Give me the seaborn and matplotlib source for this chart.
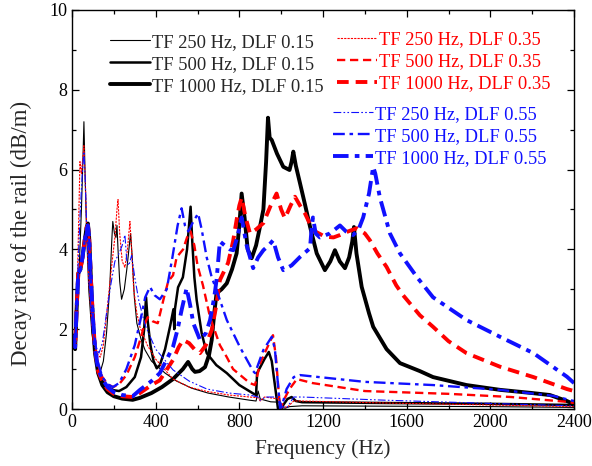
import numpy as np
import pandas as pd
import matplotlib
matplotlib.use("Agg")
import matplotlib.pyplot as plt
import seaborn as sns
from matplotlib.ticker import MultipleLocator

# ---------------- data ----------------
labels = [
    "TF 250 Hz, DLF 0.15", "TF 500 Hz, DLF 0.15", "TF 1000 Hz, DLF 0.15",
    "TF 250 Hz, DLF 0.35", "TF 500 Hz, DLF 0.35", "TF 1000 Hz, DLF 0.35",
    "TF 250 Hz, DLF 0.55", "TF 500 Hz, DLF 0.55", "TF 1000 Hz, DLF 0.55",
]

f_k250 = [0, 10, 15, 25, 35, 45, 52, 57, 62, 70, 80, 95, 110, 125, 138, 150, 165, 180, 190, 195, 203, 210, 215, 220, 228, 237, 250, 262, 272, 280, 288, 298, 310, 330, 349, 380, 445, 500, 573, 650, 750, 850, 880, 890, 900, 950, 995, 1005, 1020, 1040, 1100, 1500, 2000, 2400]
v_k250 = [1.85, 1.55, 1.5, 2.5, 3.6, 5.0, 6.2, 7.2, 6.0, 4.4, 3.0, 1.9, 1.35, 1.05, 0.98, 1.2, 1.9, 3.0, 4.2, 4.7, 4.4, 4.3, 4.6, 4.0, 3.2, 2.75, 3.0, 3.5, 4.0, 4.4, 3.8, 2.8, 2.15, 1.75, 1.48, 1.2, 0.9, 0.7, 0.52, 0.4, 0.3, 0.22, 0.2, 0.45, 0.25, 0.18, 0.17, 0.03, 0.02, 0.06, 0.08, 0.07, 0.06, 0.04]

f_k500 = [0, 10, 15, 22, 30, 40, 50, 60, 70, 76, 82, 90, 100, 110, 125, 145, 170, 200, 225, 260, 300, 330, 345, 354, 362, 375, 390, 405, 420, 445, 470, 485, 489, 492, 507, 530, 550, 567, 575, 585, 596, 620, 644, 690, 740, 800, 866, 880, 885, 900, 920, 941, 955, 970, 985, 1000, 1010, 1030, 1050, 1070, 1100, 1500, 2000, 2400]
v_k500 = [1.85, 1.55, 1.5, 2.5, 3.4, 3.5, 3.8, 4.2, 4.55, 4.65, 4.3, 3.3, 2.2, 1.5, 1.0, 0.7, 0.55, 0.47, 0.45, 0.55, 0.8, 1.3, 2.0, 2.8, 2.2, 1.6, 1.2, 1.02, 1.1, 1.5, 2.1, 2.5, 2.0, 2.5, 3.05, 3.3, 4.0, 5.07, 4.2, 3.3, 2.73, 1.9, 1.4, 1.1, 0.9, 0.6, 0.39, 0.35, 0.9, 1.05, 1.25, 1.43, 1.2, 0.6, 0.0, 0.0, 0.1, 0.25, 0.3, 0.2, 0.17, 0.15, 0.13, 0.1]

f_k1000 = [0, 10, 15, 22, 30, 40, 50, 60, 70, 76, 82, 90, 100, 110, 125, 145, 170, 200, 240, 290, 325, 380, 430, 483, 530, 555, 575, 588, 610, 636, 655, 668, 680, 691, 715, 740, 765, 787, 800, 811, 825, 840, 859, 880, 900, 915, 928, 937, 945, 955, 980, 1010, 1040, 1050, 1058, 1070, 1090, 1115, 1138, 1170, 1209, 1235, 1257, 1280, 1305, 1325, 1340, 1348, 1360, 1385, 1420, 1440, 1504, 1568, 1663, 1726, 1886, 2046, 2200, 2285, 2366, 2400]
v_k1000 = [1.85, 1.55, 1.5, 2.5, 3.4, 3.5, 3.8, 4.2, 4.55, 4.65, 4.3, 3.3, 2.2, 1.4, 0.9, 0.6, 0.42, 0.32, 0.26, 0.23, 0.28, 0.4, 0.55, 0.75, 1.0, 1.18, 1.0, 0.93, 0.95, 1.05, 1.35, 1.73, 2.4, 2.9, 3.0, 3.15, 3.5, 3.9, 4.6, 5.4, 4.8, 4.0, 3.78, 4.1, 4.6, 5.0, 6.2, 7.3, 6.8, 6.74, 6.4, 6.07, 5.99, 6.2, 6.45, 6.1, 5.66, 5.1, 4.57, 3.9, 3.48, 3.7, 3.98, 3.7, 3.53, 3.8, 4.2, 4.56, 3.9, 3.06, 2.4, 2.06, 1.5, 1.15, 0.95, 0.8, 0.6, 0.48, 0.4, 0.35, 0.2, 0.12]

f_r250 = [0, 10, 15, 25, 38, 45, 52, 57, 63, 70, 80, 95, 110, 125, 135, 150, 170, 190, 205, 215, 220, 228, 240, 253, 265, 277, 285, 295, 310, 325, 360, 400, 483, 560, 645, 750, 850, 890, 900, 920, 990, 1005, 1030, 1060, 1100, 1500, 2000, 2400]
v_r250 = [1.85, 1.6, 1.55, 3.0, 6.2, 5.9, 6.3, 6.6, 5.8, 4.5, 3.2, 2.1, 1.55, 1.35, 1.3, 1.6, 2.6, 3.6, 4.3, 5.0, 5.25, 4.4, 3.7, 3.55, 4.0, 4.7, 4.0, 3.0, 2.4, 2.05, 1.6, 1.25, 0.75, 0.55, 0.44, 0.35, 0.3, 0.28, 0.2, 0.3, 0.25, 0.05, 0.05, 0.2, 0.2, 0.15, 0.1, 0.06]

f_r500 = [0, 10, 15, 22, 30, 40, 50, 60, 70, 76, 82, 90, 100, 110, 125, 145, 170, 196, 225, 260, 300, 330, 345, 362, 385, 410, 440, 460, 483, 500, 531, 550, 567, 585, 600, 626, 660, 707, 740, 770, 850, 875, 900, 930, 961, 975, 990, 998, 1010, 1040, 1075, 1150, 1400, 1800, 2100, 2366, 2400]
v_r500 = [1.85, 1.6, 1.55, 2.5, 3.4, 3.5, 3.8, 4.2, 4.55, 4.6, 4.3, 3.3, 2.3, 1.6, 1.1, 0.8, 0.62, 0.55, 0.62, 0.85, 1.3, 1.8, 2.1, 2.3, 2.2, 2.15, 2.8, 3.2, 3.35, 3.8, 4.0, 4.3, 4.45, 4.1, 3.6, 3.1, 2.3, 1.6, 1.3, 1.0, 0.65, 0.6, 1.15, 1.5, 1.85, 1.3, 0.3, 0.0, 0.2, 0.5, 0.75, 0.65, 0.45, 0.38, 0.3, 0.18, 0.15]

f_r1000 = [0, 10, 15, 22, 30, 40, 50, 60, 70, 76, 82, 90, 100, 110, 125, 145, 170, 200, 240, 290, 325, 380, 420, 483, 510, 531, 560, 585, 612, 640, 668, 690, 707, 746, 770, 787, 800, 811, 830, 851, 880, 915, 950, 978, 1000, 1018, 1045, 1066, 1090, 1114, 1152, 1209, 1250, 1281, 1320, 1361, 1400, 1424, 1460, 1504, 1550, 1583, 1663, 1726, 1800, 1886, 2046, 2206, 2366, 2400]
v_r1000 = [1.85, 1.6, 1.55, 2.5, 3.4, 3.5, 3.8, 4.2, 4.55, 4.6, 4.3, 3.3, 2.3, 1.5, 0.95, 0.7, 0.5, 0.38, 0.32, 0.3, 0.4, 0.6, 0.72, 1.23, 1.55, 1.73, 1.65, 1.5, 1.4, 1.6, 1.98, 2.6, 3.23, 3.66, 4.2, 4.74, 5.1, 5.3, 4.8, 4.4, 4.5, 4.66, 5.1, 5.4, 5.0, 4.78, 5.1, 5.32, 5.1, 4.9, 4.48, 4.32, 4.3, 4.36, 4.45, 4.53, 4.4, 4.23, 3.9, 3.56, 3.1, 2.85, 2.35, 2.06, 1.7, 1.4, 1.06, 0.8, 0.5, 0.45]

f_b250 = [0, 10, 15, 25, 38, 50, 57, 63, 70, 80, 95, 110, 129, 145, 165, 185, 205, 225, 240, 253, 262, 272, 285, 300, 320, 350, 400, 483, 560, 645, 750, 850, 890, 900, 925, 990, 1005, 1030, 1060, 1100, 1500, 2000, 2400]
v_b250 = [1.85, 1.6, 1.55, 3.0, 4.8, 6.0, 6.45, 5.8, 4.6, 3.3, 2.2, 1.6, 1.4, 1.65, 2.4, 3.1, 3.7, 3.9, 4.1, 4.36, 3.7, 3.6, 3.85, 3.3, 2.7, 2.1, 1.5, 0.98, 0.7, 0.5, 0.4, 0.35, 0.3, 0.22, 0.3, 0.3, 0.05, 0.05, 0.3, 0.3, 0.22, 0.14, 0.08]

f_b500 = [0, 10, 15, 22, 30, 40, 50, 60, 70, 76, 82, 90, 100, 110, 125, 145, 170, 196, 225, 260, 300, 330, 350, 373, 395, 420, 453, 480, 505, 524, 540, 556, 580, 603, 620, 644, 668, 691, 740, 803, 866, 875, 915, 955, 970, 985, 995, 1010, 1026, 1060, 1090, 1400, 1726, 2046, 2300, 2400]
v_b500 = [1.85, 1.6, 1.55, 2.5, 3.4, 3.5, 3.8, 4.2, 4.5, 4.6, 4.3, 3.3, 2.4, 1.7, 1.15, 0.8, 0.62, 0.55, 0.65, 1.0, 1.6, 2.3, 2.8, 3.06, 2.85, 2.75, 3.0, 3.8, 4.6, 5.03, 4.6, 4.45, 4.7, 4.9, 4.5, 3.8, 3.3, 2.98, 2.23, 1.55, 0.95, 0.9, 1.48, 1.81, 1.5, 0.6, 0.0, 0.2, 0.5, 0.8, 0.85, 0.68, 0.6, 0.48, 0.33, 0.2]

f_b1000 = [0, 10, 15, 22, 30, 40, 50, 60, 70, 76, 82, 90, 100, 110, 125, 145, 170, 200, 240, 290, 325, 380, 420, 483, 505, 524, 548, 565, 580, 612, 640, 660, 680, 691, 707, 730, 755, 771, 790, 811, 835, 866, 890, 915, 940, 962, 985, 1010, 1050, 1090, 1138, 1145, 1152, 1165, 1185, 1233, 1281, 1310, 1344, 1370, 1392, 1420, 1440, 1450, 1472, 1520, 1568, 1650, 1726, 1886, 2046, 2206, 2366, 2400]
v_b1000 = [1.85, 1.6, 1.55, 2.5, 3.4, 3.5, 3.8, 4.2, 4.5, 4.6, 4.3, 3.3, 2.3, 1.5, 1.0, 0.75, 0.55, 0.42, 0.35, 0.32, 0.48, 0.7, 0.9, 1.56, 2.0, 2.48, 3.03, 2.6, 2.15, 1.73, 1.9, 2.23, 2.8, 3.23, 4.2, 4.1, 4.0, 3.98, 4.3, 4.8, 4.1, 3.53, 3.8, 3.98, 4.1, 4.23, 3.8, 3.48, 3.6, 3.81, 4.03, 4.5, 4.8, 4.4, 4.3, 4.4, 4.6, 4.45, 4.36, 4.5, 4.8, 5.4, 6.07, 5.9, 5.3, 4.4, 3.9, 3.3, 2.8, 2.23, 1.81, 1.4, 0.81, 0.65]

x_ticks = [0, 400, 800, 1200, 1600, 2000, 2400]
y_ticks = [0, 2, 4, 6, 8, 10]

series = [
    (f_k250, v_k250), (f_k500, v_k500), (f_k1000, v_k1000),
    (f_r250, v_r250), (f_r500, v_r500), (f_r1000, v_r1000),
    (f_b250, v_b250), (f_b500, v_b500), (f_b1000, v_b1000),
]

RED = "#ff0000"
BLUE = "#1010ff"
styles = [
    dict(color="black", lw=0.8, ls="-"),
    dict(color="black", lw=1.8, ls="-"),
    dict(color="black", lw=2.8, ls="-"),
    dict(color=RED, lw=0.8, ls=(0, (2, 1))),
    dict(color=RED, lw=1.7, ls=(0, (3.5, 2))),
    dict(color=RED, lw=2.8, ls=(0, (3, 1.8))),
    dict(color=BLUE, lw=0.8, ls=(0, (7, 2, 1.5, 2, 1.5, 2))),
    dict(color=BLUE, lw=1.7, ls=(0, (5, 2, 1.5, 2))),
    dict(color=BLUE, lw=2.8, ls=(0, (4, 1.6, 1.2, 1.6))),
]

# ---------------- figure ----------------
sns.set_theme(style="ticks")
plt.rcParams["font.family"] = ["Liberation Serif", "DejaVu Serif"]
plt.rcParams["mathtext.fontset"] = "stix"

fig = plt.figure(figsize=(5.92, 4.66), dpi=100)
ax = fig.add_axes([72 / 592, 1 - 409 / 466, (574 - 72) / 592, (409 - 10) / 466])

for (fx, fy), lab, st in zip(series, labels, styles):
    df = pd.DataFrame({"f": fx, "v": fy})
    sns.lineplot(data=df, x="f", y="v", ax=ax, estimator=None, sort=False,
                 color=st["color"], linewidth=st["lw"], linestyle=st["ls"],
                 label=lab, legend=False)

ax.set_xlim(0, 2400)
ax.set_ylim(0, 10)
ax.set_xticks(x_ticks)
ax.set_yticks(y_ticks)
ax.xaxis.set_minor_locator(MultipleLocator(200))
ax.yaxis.set_minor_locator(MultipleLocator(1))
ax.tick_params(which="both", direction="in", top=True, right=True,
               labelsize=13, colors="black", width=0.9)
ax.tick_params(which="major", length=5)
ax.tick_params(which="minor", length=3)
for sp in ax.spines.values():
    sp.set_linewidth(1.0)
    sp.set_color("black")
ax.set_xlabel("Frequency (Hz)", fontsize=15.5, labelpad=6)
ax.set_ylabel("Decay rate of the rail (dB/m)", fontsize=16.5)
ax.yaxis.set_label_coords(-0.08, 0.44)

lines = ax.get_lines()
common = dict(frameon=False, fontsize=13.3, handlelength=2.15, handletextpad=0.1,
              labelspacing=0.27, borderpad=0, borderaxespad=0, loc="upper left")
leg1 = ax.legend(lines[0:3], labels[0:3], bbox_to_anchor=(0.076, 0.94), **common)
ax.add_artist(leg1)
leg2 = ax.legend(lines[3:6], labels[3:6], bbox_to_anchor=(0.528, 0.946),
                 labelcolor=RED, **common)
ax.add_artist(leg2)
leg3 = ax.legend(lines[6:9], labels[6:9], bbox_to_anchor=(0.52, 0.76),
                 labelcolor=BLUE, **common)

fig.savefig("out.png", dpi=100)
